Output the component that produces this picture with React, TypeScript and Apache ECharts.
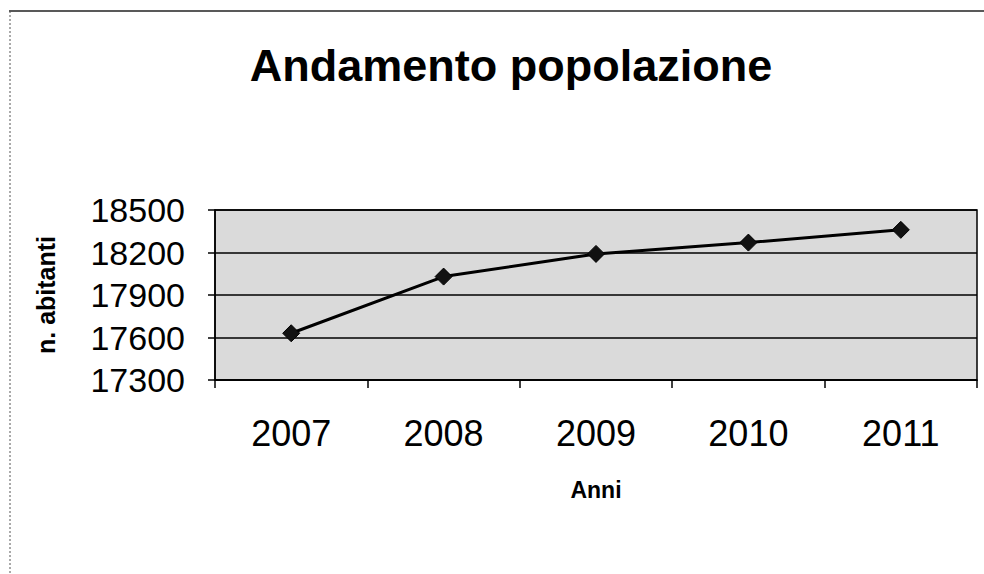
import React, { useEffect, useRef } from "react";
import * as echarts from "echarts";

const years = ["2007", "2008", "2009", "2010", "2011"];
const population = [17630, 18030, 18190, 18270, 18360];
const yMin = 17300;
const yMax = 18500;
const yStep = 300;
const titleText = "Andamento popolazione";
const yName = "n. abitanti";
const xName = "Anni";

export default function App() {
  const ref = useRef<HTMLDivElement>(null);
  useEffect(() => {
    if (!ref.current) return;
    const chart = echarts.init(ref.current, undefined, { renderer: "svg" });
    chart.setOption({
      animation: false,
      backgroundColor: "#ffffff",
      title: {
        text: titleText,
        left: 506,
        top: 38,
        textAlign: "center",
        textStyle: {
          fontFamily: "Liberation Sans, Arial, sans-serif",
          fontWeight: "bold",
          fontSize: 45,
          color: "#000",
        },
      },
      graphic: [
        { type: "line", shape: { x1: 9, y1: 11, x2: 984, y2: 11 }, style: { stroke: "#222", lineWidth: 1.5 } },
        { type: "line", shape: { x1: 10, y1: 11, x2: 10, y2: 574 }, style: { stroke: "#555", lineWidth: 1, lineDash: [2, 2] } },
      ],
      grid: {
        left: 215,
        right: 7,
        top: 210,
        bottom: 194,
        show: true,
        backgroundColor: "#dadada",
        borderColor: "#000",
        borderWidth: 1.5,
      },
      xAxis: {
        type: "category",
        data: years,
        boundaryGap: true,
        name: xName,
        nameLocation: "middle",
        nameGap: 98,
        nameTextStyle: {
          fontFamily: "Liberation Sans, Arial, sans-serif",
          fontWeight: "bold",
          fontSize: 23,
          color: "#000",
        },
        axisLine: { lineStyle: { color: "#000", width: 1.5 } },
        axisTick: { show: true, length: 8, inside: false, lineStyle: { color: "#000", width: 1.5 } },
        axisLabel: {
          margin: 35,
          fontFamily: "Liberation Sans, Arial, sans-serif",
          fontSize: 36,
          color: "#000",
        },
        splitLine: { show: false },
      },
      yAxis: {
        type: "value",
        min: yMin,
        max: yMax,
        interval: yStep,
        name: yName,
        nameLocation: "middle",
        nameGap: 157,
        nameTextStyle: {
          fontFamily: "Liberation Sans, Arial, sans-serif",
          fontWeight: "bold",
          fontSize: 25,
          color: "#000",
        },
        axisLine: { show: true, lineStyle: { color: "#000", width: 1.5 } },
        axisTick: { show: true, length: 7, lineStyle: { color: "#000", width: 1.5 } },
        axisLabel: {
          margin: 30,
          formatter: (v: number) => String(v),
          fontFamily: "Liberation Sans, Arial, sans-serif",
          fontSize: 34,
          color: "#000",
        },
        splitLine: { show: true, lineStyle: { color: "#000", width: 1.5 } },
      },
      series: [
        {
          type: "line",
          data: population,
          symbol: "diamond",
          symbolSize: 17,
          lineStyle: { color: "#000", width: 3 },
          itemStyle: { color: "#111", borderColor: "#000", borderWidth: 1 },
        },
      ],
    });
    return () => chart.dispose();
  }, []);
  return (
    <div
      ref={ref}
      style={{ position: "fixed", left: 0, top: 0, width: 984, height: 574 }}
    />
  );
}
